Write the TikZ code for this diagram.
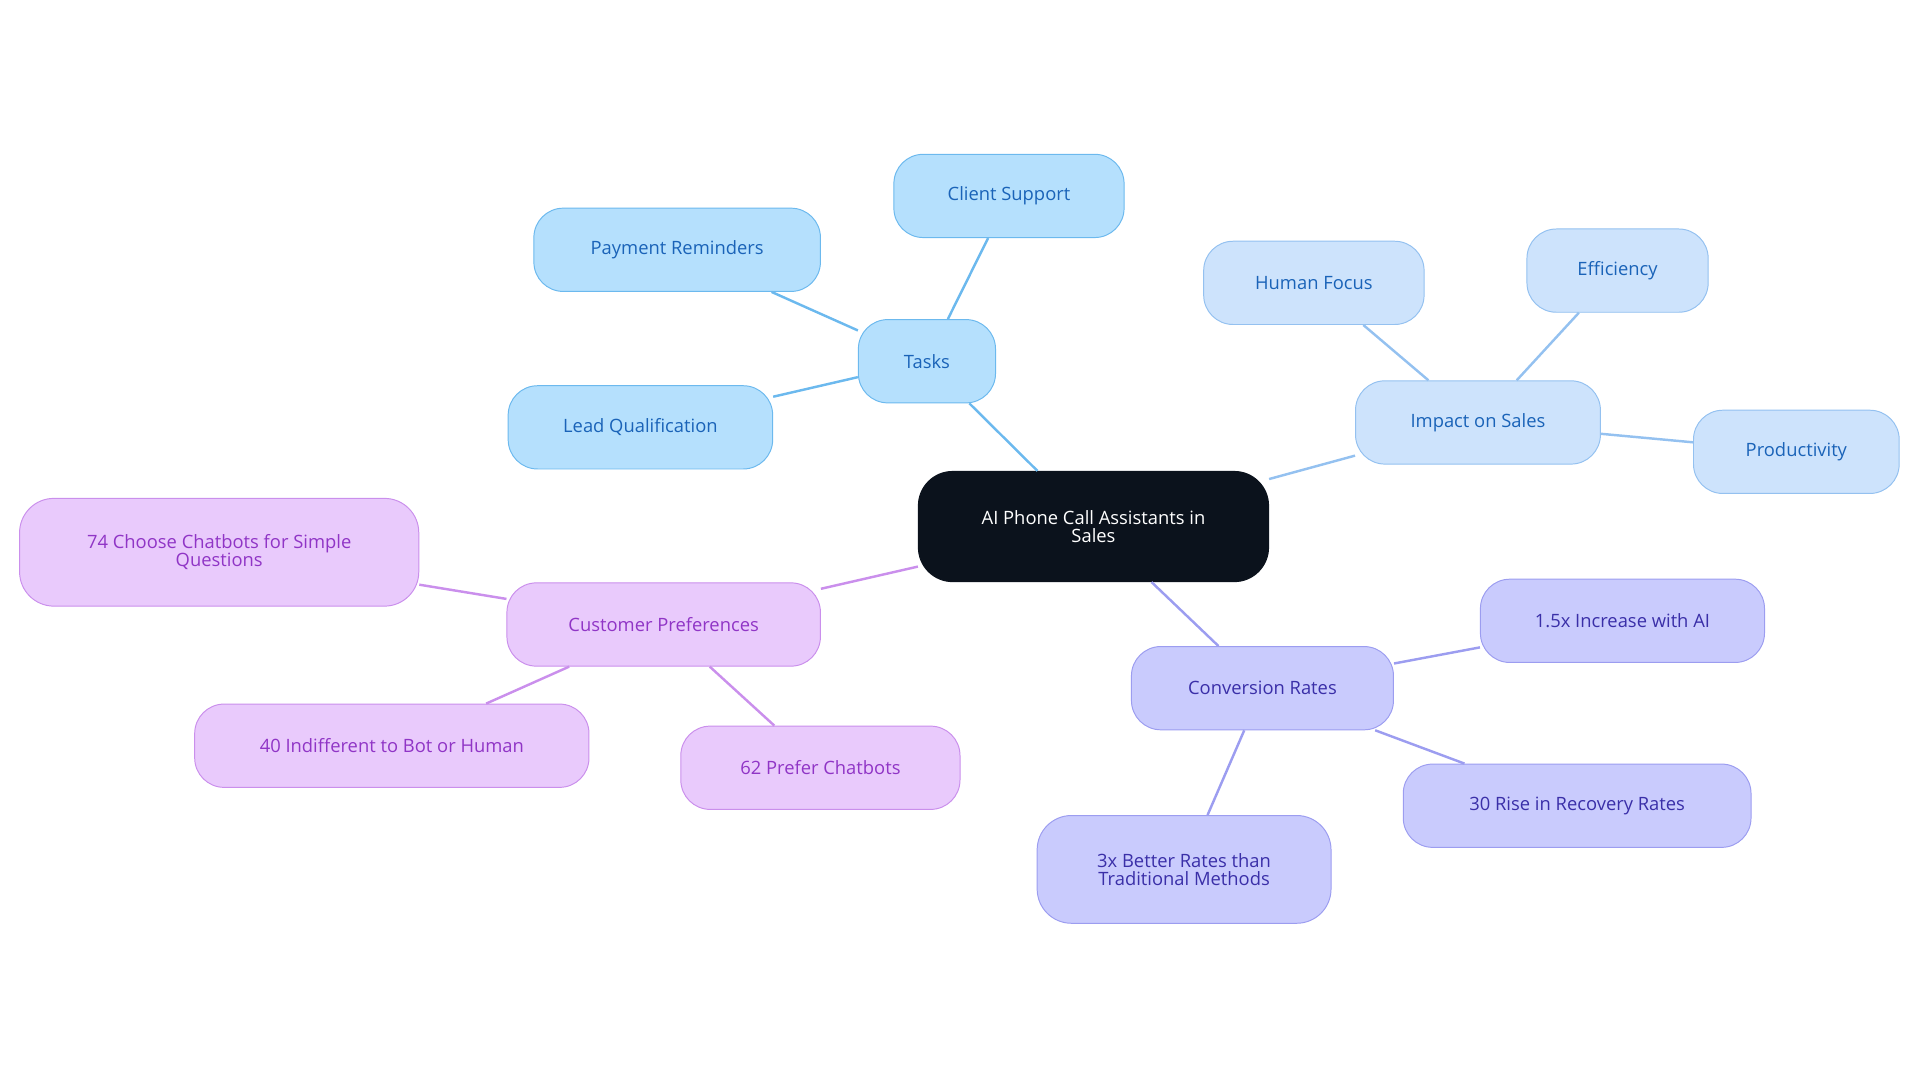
\documentclass[tikz,border=0pt]{standalone}
\usepackage{fontspec}
\setmainfont{Open Sans}
\begin{document}
\begin{tikzpicture}[x=1pt,y=-1pt,
 base/.style={rounded corners=24pt,minimum height=68pt,align=center,font=\fontsize{15}{15}\selectfont,line width=0.8pt,inner sep=2pt},
 tb/.style={base,fill=tbf,draw=tbd,text=tbt},
 ib/.style={base,fill=ibf,draw=ibd,text=tbt},
 cb/.style={base,fill=cbf,draw=cbd,text=cbt},
 pb/.style={base,fill=pbf,draw=pbd,text=pbt},
 le/.style={line width=2pt}]
\definecolor{tbf}{HTML}{B5E0FD}\definecolor{tbd}{HTML}{6CB9EE}\definecolor{tbt}{HTML}{1A63B8}
\definecolor{ibf}{HTML}{CDE3FC}\definecolor{ibd}{HTML}{94C1F0}
\definecolor{cbf}{HTML}{C9CBFD}\definecolor{cbd}{HTML}{9C9DF0}\definecolor{cbt}{HTML}{3A2FA8}
\definecolor{pbf}{HTML}{E9CAFC}\definecolor{pbd}{HTML}{CA8FEC}\definecolor{pbt}{HTML}{9035C6}
\definecolor{dk}{HTML}{0B121C}
\useasboundingbox (0,0) rectangle (1568,884);
\node[base,fill=dk,draw=dk,text=white,minimum width=286pt,minimum height=90pt,rounded corners=28pt] (c) at (893,430) {AI Phone Call Assistants in\\Sales};
\node[tb,minimum width=112pt] (t) at (757,295) {Tasks};
\node[tb,minimum width=188pt] (t1) at (824,160) {Client Support};
\node[tb,minimum width=234pt] (t2) at (553,204) {Payment Reminders};
\node[tb,minimum width=216pt] (t3) at (523,349) {Lead Qualification};
\node[ib,minimum width=200pt] (i) at (1207,345) {Impact on Sales};
\node[ib,minimum width=180pt] (i1) at (1073,231) {Human Focus};
\node[ib,minimum width=148pt] (i2) at (1321,221) {Efficiency};
\node[ib,minimum width=168pt] (i3) at (1467,369) {Productivity};
\node[cb,minimum width=214pt] (r) at (1031,562) {Conversion Rates};
\node[cb,minimum width=232pt] (r1) at (1325,507) {1.5x Increase with AI};
\node[cb,minimum width=284pt] (r2) at (1288,658) {30 Rise in Recovery Rates};
\node[cb,minimum width=240pt,minimum height=88pt,rounded corners=28pt] (r3) at (967,710) {3x Better Rates than\\Traditional Methods};
\node[pb,minimum width=256pt] (p) at (542,510) {Customer Preferences};
\node[pb,minimum width=326pt,minimum height=88pt,rounded corners=28pt] (p1) at (179,451) {74 Choose Chatbots for Simple\\Questions};
\node[pb,minimum width=322pt] (p2) at (320,609) {40 Indifferent to Bot or Human};
\node[pb,minimum width=228pt] (p3) at (670,627) {62 Prefer Chatbots};
\begin{scope}[on background layer/.try]
\end{scope}
\draw[le,tbd] (c) -- (t); \draw[le,tbd] (t) -- (t1); \draw[le,tbd] (t) -- (t2); \draw[le,tbd] (t) -- (t3);
\draw[le,ibd] (c) -- (i); \draw[le,ibd] (i) -- (i1); \draw[le,ibd] (i) -- (i2); \draw[le,ibd] (i) -- (i3);
\draw[le,cbd] (c) -- (r); \draw[le,cbd] (r) -- (r1); \draw[le,cbd] (r) -- (r2); \draw[le,cbd] (r) -- (r3);
\draw[le,pbd] (c) -- (p); \draw[le,pbd] (p) -- (p1); \draw[le,pbd] (p) -- (p2); \draw[le,pbd] (p) -- (p3);
\end{tikzpicture}
\end{document}
